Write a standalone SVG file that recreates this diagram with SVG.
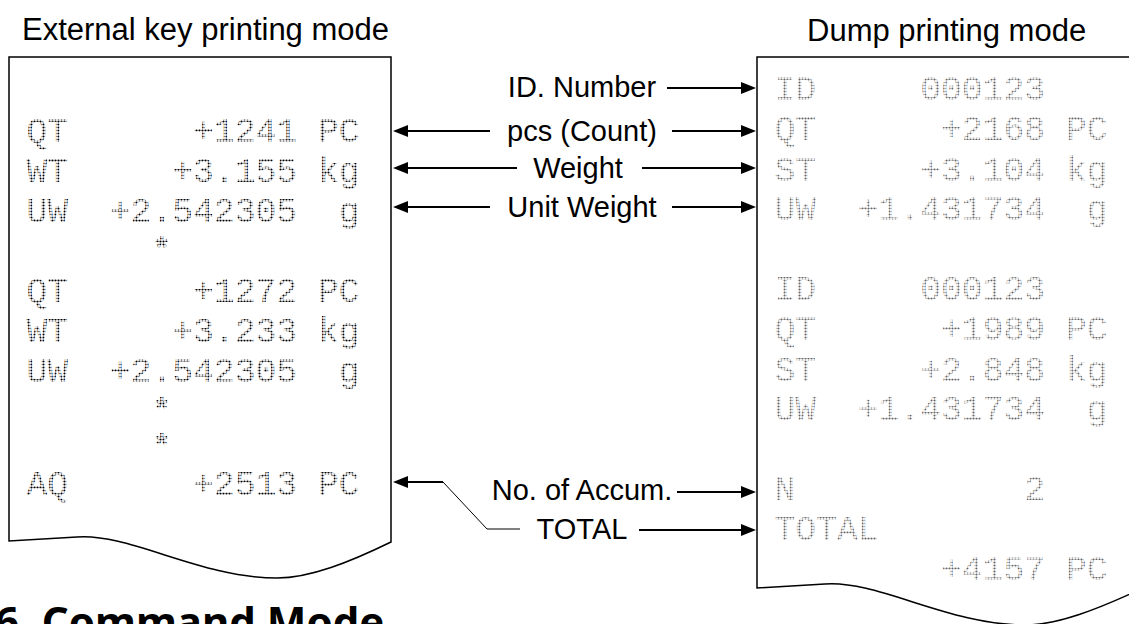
<svg xmlns="http://www.w3.org/2000/svg" width="1129" height="624" viewBox="0 0 1129 624">
<style>
.hd{font-family:"Liberation Sans",Arial,sans-serif;font-size:31px;fill:#000}
.lb{font-family:"Liberation Sans",Arial,sans-serif;font-size:29px;fill:#000;text-anchor:middle}
.dm{font-family:"Liberation Mono","Courier New",monospace;font-size:34.7px;white-space:pre}
.ast{font-weight:700;font-size:32px}
.dmL{fill:url(#dotsL)}
.dmR{fill:url(#dotsR)}
.paper{fill:#fff;stroke:#000;stroke-width:1.5}
.arr{stroke:#000;stroke-width:2;fill:none}
.thin{stroke:#000;stroke-width:1;fill:none}
.sec{font-family:"Noto Sans",sans-serif;font-weight:700;font-size:42px;fill:#000}
</style>
<defs>
<pattern id="dotsL" width="3" height="3" patternUnits="userSpaceOnUse"><circle cx="1.5" cy="1.5" r="1.1" fill="#000"/></pattern>
<pattern id="dotsR" width="3" height="3" patternUnits="userSpaceOnUse"><circle cx="1.5" cy="1.5" r="1.1" fill="#666"/></pattern>
<marker id="ah" viewBox="0 0 15 12" refX="3" refY="6" markerWidth="15" markerHeight="12" markerUnits="userSpaceOnUse" orient="auto"><path d="M0,0 L15,6 L0,12 Z" fill="#000"/></marker>
</defs>
<rect width="1129" height="624" fill="#fff"/>

<text class="hd" x="22" y="40">External key printing mode</text>
<text class="hd" x="807" y="41">Dump printing mode</text>

<g id="paper-external">
<path class="paper" d="M9,57 H391 V542 C350,562 310,578 277,578 C200,578 130,533 77,537 C45,539 25,540 9,541 Z"/>
<text class="dm dmL" x="26.5" y="142" xml:space="preserve">QT      +1241 PC</text>
<text class="dm dmL" x="26.5" y="182" xml:space="preserve">WT     +3.155 kg</text>
<text class="dm dmL" x="26.5" y="222" xml:space="preserve">UW  +2.542305  g</text>
<text class="dm dmL ast" x="152" y="259">*</text>
<text class="dm dmL" x="26.5" y="302" xml:space="preserve">QT      +1272 PC</text>
<text class="dm dmL" x="26.5" y="342" xml:space="preserve">WT     +3.233 kg</text>
<text class="dm dmL" x="26.5" y="382" xml:space="preserve">UW  +2.542305  g</text>
<text class="dm dmL ast" x="152" y="419.5">*</text>
<text class="dm dmL ast" x="152" y="456">*</text>
<text class="dm dmL" x="26.5" y="495" xml:space="preserve">AQ      +2513 PC</text>
</g>

<g id="paper-dump">
<path class="paper" d="M757,57 H1141 V589 C1098,609 1058,625 1025,625 C948,625 878,580 825,584 C793,586 773,587 757,588 Z"/>
<text class="dm dmR" x="774.5" y="100" xml:space="preserve">ID     000123</text>
<text class="dm dmR" x="774.5" y="140" xml:space="preserve">QT      +2168 PC</text>
<text class="dm dmR" x="774.5" y="181" xml:space="preserve">ST     +3.104 kg</text>
<text class="dm dmR" x="774.5" y="220" xml:space="preserve">UW  +1.431734  g</text>
<text class="dm dmR" x="774.5" y="300" xml:space="preserve">ID     000123</text>
<text class="dm dmR" x="774.5" y="340" xml:space="preserve">QT      +1989 PC</text>
<text class="dm dmR" x="774.5" y="381" xml:space="preserve">ST     +2.848 kg</text>
<text class="dm dmR" x="774.5" y="420" xml:space="preserve">UW  +1.431734  g</text>
<text class="dm dmR" x="774.5" y="500" xml:space="preserve">N           2</text>
<text class="dm dmR" x="774.5" y="540" xml:space="preserve">TOTAL</text>
<text class="dm dmR" x="774.5" y="580" xml:space="preserve">        +4157 PC</text>
</g>

<g id="labels">
<text class="lb" x="582" y="97">ID. Number</text>
<text class="lb" x="582" y="141">pcs (Count)</text>
<text class="lb" x="578" y="178">Weight</text>
<text class="lb" x="582" y="217">Unit Weight</text>
<text class="lb" x="582" y="500">No. of Accum.</text>
<text class="lb" x="582" y="539">TOTAL</text>
</g>

<g id="connectors">
<line class="arr" x1="667" y1="88" x2="744" y2="88" marker-end="url(#ah)"/>
<line class="arr" x1="490" y1="131" x2="405" y2="131" marker-end="url(#ah)"/>
<line class="arr" x1="672" y1="131" x2="744" y2="131" marker-end="url(#ah)"/>
<line class="arr" x1="517" y1="168" x2="405" y2="168" marker-end="url(#ah)"/>
<line class="arr" x1="642" y1="168" x2="744" y2="168" marker-end="url(#ah)"/>
<line class="arr" x1="490" y1="207" x2="405" y2="207" marker-end="url(#ah)"/>
<line class="arr" x1="672" y1="207" x2="744" y2="207" marker-end="url(#ah)"/>
<line class="arr" x1="677" y1="492" x2="744" y2="492" marker-end="url(#ah)"/>
<line class="arr" x1="639" y1="530" x2="744" y2="530" marker-end="url(#ah)"/>
<line class="arr" x1="443" y1="482" x2="405" y2="482" marker-end="url(#ah)"/>
<polyline class="thin" points="443,482 487,529 520,529"/>
</g>

<text class="sec" x="-5" y="637">6. Command Mode</text>
</svg>
